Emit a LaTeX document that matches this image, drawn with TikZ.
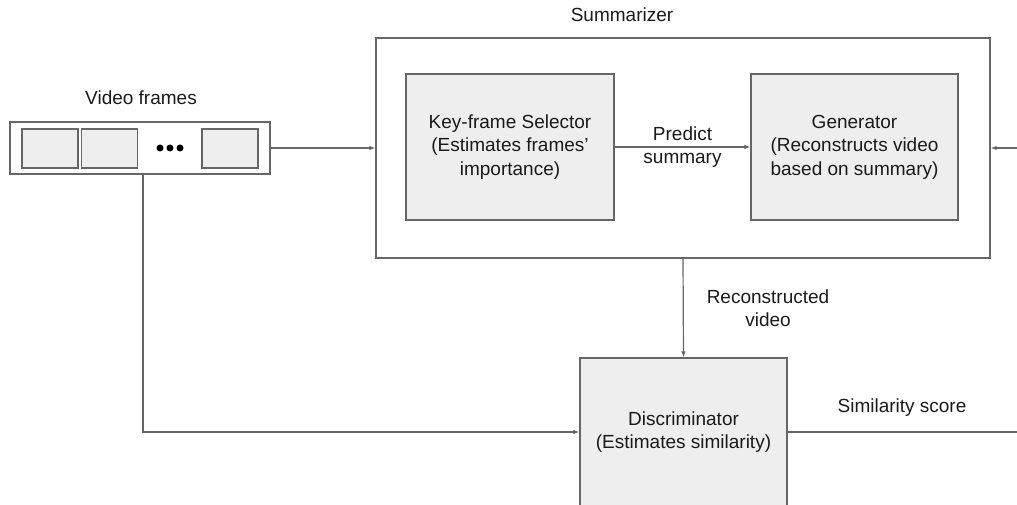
\documentclass[tikz,border=0pt]{standalone}
\usepackage{fontspec}
\setmainfont{Liberation Sans}
\usetikzlibrary{arrows.meta}
\definecolor{edge}{HTML}{666666}
\definecolor{boxfill}{HTML}{EEEEEE}
\definecolor{txt}{HTML}{1A1A1A}
\begin{document}
\begin{tikzpicture}[x=1pt,y=-1pt,
  every node/.style={font=\fontsize{19}{23.5}\selectfont, text=txt, align=center},
  block/.style={draw=edge, fill=boxfill, line width=1.2pt, inner sep=0pt},
  frame/.style={draw=edge, fill=white, line width=1.2pt, inner sep=0pt},
  thumb/.style={draw=edge, fill=boxfill, line width=1.1pt, inner sep=0pt,
    minimum width=56pt, minimum height=39pt},
  link/.style={draw=edge, line width=1.2pt, -{Latex[length=6pt,width=4.5pt]}},
  plain/.style={draw=edge, line width=1.2pt},
  dot/.style={circle, fill=black, inner sep=0pt, minimum size=7pt}
]
\useasboundingbox (0,0) rectangle (1017,505);
\clip (0,0) rectangle (1017,505);

% input strip of video frames
\node[frame, minimum width=260pt, minimum height=52pt] (frames) at (140,148) {};
\node[thumb] (f1) at (50,148.5) {};
\node[thumb] (f2) at (109.5,148.5) {};
\node[thumb] (fn) at (230,148.5) {};
\node[dot] (d1) at (160,148) {};
\node[dot] (d2) at (170,148) {};
\node[dot] (d3) at (180,148) {};
\node (framesLabel) at (141,98) {Video frames};

% summarizer with its two stages
\node[frame, minimum width=614pt, minimum height=220pt] (summ) at (683,148) {};
\node (summLabel) at (622,15) {Summarizer};
\node[block, minimum width=208pt, minimum height=146pt] (ks) at (510,147)
  {Key-frame Selector\\(Estimates frames'\\importance)};
\node[block, minimum width=207pt, minimum height=146pt] (gen) at (854.5,147)
  {Generator\\(Reconstructs video\\based on summary)};

% discriminator
\node[block, minimum width=207pt, minimum height=148pt] (disc) at (683.5,432)
  {Discriminator\\(Estimates similarity)};

% connectors
\coordinate (rin) at (1017,148);
\coordinate (rout) at (1017,432);
\draw[link] (frames.east) -- (summ.west);
\draw[link] (rin) -- (summ.east);
\draw[link] (ks.east) -- (gen.west)
  node[midway] (predLabel) {Predict\\summary};
\draw[link] (summ.south) -- (disc.north);
\node (recLabel) at (768,308) {Reconstructed\\video};
\draw[link] ([xshift=3pt]frames.south) |- (disc.west);
\draw[plain] (disc.east) -- (rout);
\node (simLabel) at (902,408) {Similarity score};
\end{tikzpicture}
\end{document}
